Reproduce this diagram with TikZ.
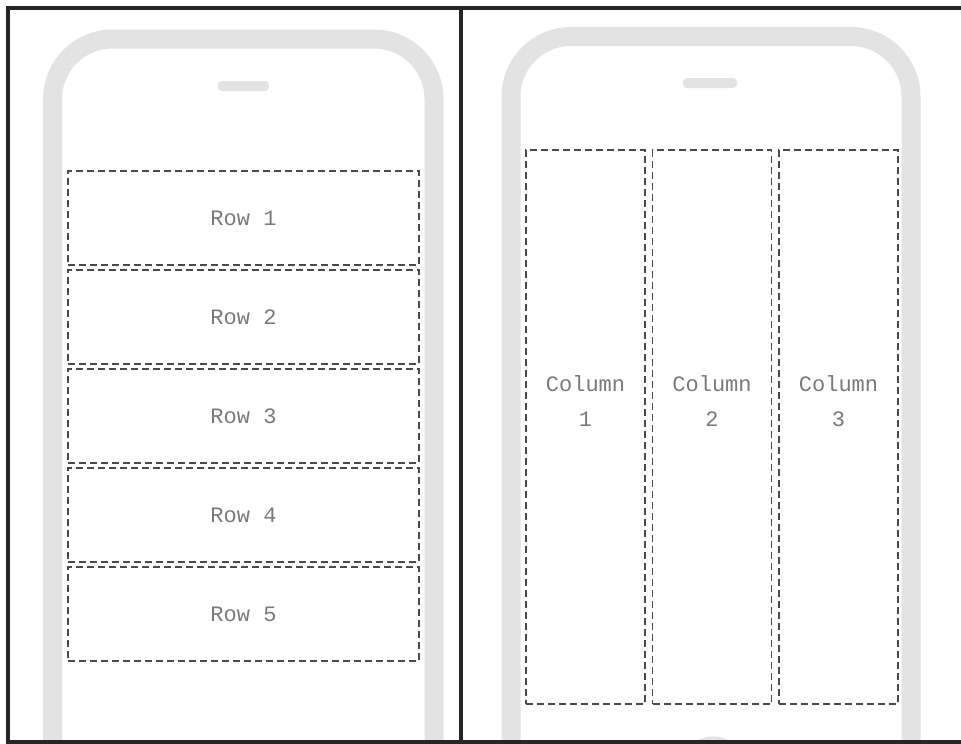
\documentclass[tikz,border=0pt]{standalone}
\usepackage{fontspec}
\setmonofont{Liberation Mono}
\usetikzlibrary{positioning}
\definecolor{phonegray}{HTML}{E3E3E3}
\definecolor{dashgray}{HTML}{4A4A4A}
\definecolor{textgray}{HTML}{7A7A7A}
\begin{document}
\begin{tikzpicture}[x=1pt, y=-1pt,
  frame/.style={line width=19pt, phonegray, rounded corners=60pt},
  speaker/.style={fill=phonegray, rounded corners=4pt},
  cellbox/.style={draw=dashgray, line width=1.2pt, dash pattern=on 7pt off 4pt,
    inner sep=0pt, text=textgray, font=\ttfamily\fontsize{22}{35}\selectfont},
  rowbox/.style={cellbox, minimum width=351pt, minimum height=94pt},
  colbox/.style={cellbox, minimum width=119pt, minimum height=554pt},
  celltext/.style={text=textgray, align=center, font=\ttfamily\fontsize{22}{35}\selectfont}]
  \useasboundingbox (0,0) rectangle (961,744);
  \clip (0,0) rectangle (961,744);
  \fill[white] (0,0) rectangle (961,744);
  % phones
  \draw[frame] (52.5,900) -- (52.5,39) -- (434,39) -- (434,900);
  \fill[speaker] (218,81) rectangle (269,91);
  \draw[frame] (511,900) -- (511,36.5) -- (911,36.5) -- (911,900);
  \fill[speaker] (683,78) rectangle (737,88);
  \draw[phonegray, line width=3pt] (713,770) circle (32);
  % rows
  \foreach \i in {1,...,5}
    \node[rowbox] (row\i) at (243.5,{218+99*(\i-1)}) {Row \i};
  % columns
  \foreach \i/\x in {1/585.5, 2/712, 3/838.5} {
    \node[colbox] (col\i) at (\x,427) {};
    \node[celltext] (coltext\i) at ([yshift=26pt]col\i.center) {Column\\\i};
  }
  % borders
  \draw[line width=3.2pt, black!85] (961,8) -- (8,8) -- (8,742) -- (961,742);
  \draw[line width=3.2pt, black!85] (461,8) -- (461,742);
\end{tikzpicture}
\end{document}
